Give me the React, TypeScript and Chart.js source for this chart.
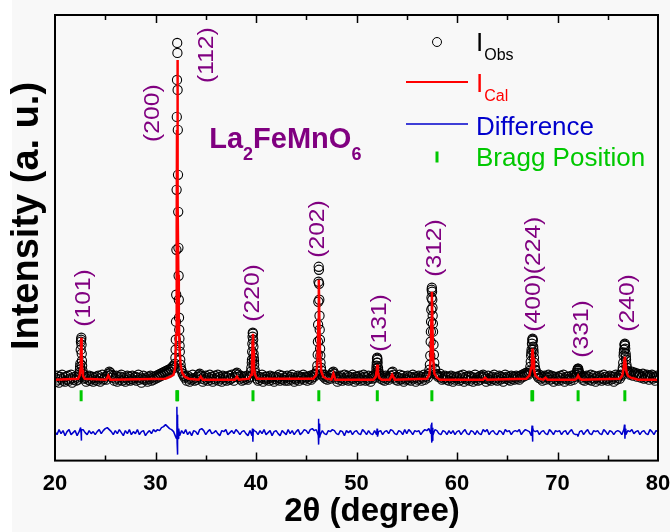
import React, { useEffect, useRef } from 'react';
import { Chart, registerables } from 'chart.js';

Chart.register(...registerables);

const FONT = "'Liberation Sans', Arial, Helvetica, sans-serif";

// ---- axes ----
const X_MIN = 20;
const X_MAX = 80;
const Y_MIN = -81;
const Y_MAX = 365;
const xTicks = [20, 30, 40, 50, 60, 70, 80];
const xMinorTicks = [25, 35, 45, 55, 65, 75];
const xTitle = '2θ (degree)';
const yTitle = 'Intensity (a. u.)';

// ---- observed intensity: scan 20..80, step 0.1 (one row = 1 degree) ----
const OBS_START = 20;
const OBS_STEP = 0.1;
const obsGrid = [
  2, -2, 4, 0, -3, 3, 1, 5, -1, 2,
  -2, 3, 0, 4, -1, 1, 5, -3, 2, 0,
  3, -1, 2, 0, 5, 13, 40, 14, 5, 1,
  2, -2, 3, 0, 4, -1, 1, 3, -2, 2,
  0, 3, -1, 4, 1, -2, 2, 5, 0, 1,
  3, 0, 4, 6, 8, 7, 5, 2, 4, -1,
  1, 4, -2, 2, 0, 3, 5, -1, 2, 0,
  -2, 2, 4, 0, 3, -1, 1, 4, 0, 2,
  3, -1, 2, 5, 0, 2, -3, 1, 4, 0,
  2, 0, -2, 3, 1, 4, -1, 2, 0, 3,
  1, 4, 2, 5, 3, 6, 4, 7, 5, 8,
  6, 9, 7, 10, 8, 11, 10, 13, 14, 12,
  30, 190, 290, 104, 34, 15, 9, 6, 4, 2,
  3, -1, 4, 1, -2, 2, 0, 5, 1, -1,
  2, 0, 3, 5, 6, 4, 1, -2, 3, 0,
  4, 1, -1, 2, 5, 0, 3, -2, 1, 4,
  0, 2, 5, -1, 3, 1, -2, 4, 2, 0,
  3, -1, 2, 4, 0, 1, 5, 2, -1, 3,
  6, 7, 5, 3, 1, 4, -1, 2, 0, 3,
  1, 4, 0, 2, 3, 8, 20, 46, 19, 7,
  4, 1, -1, 3, 0, 2, 5, -2, 1, 3,
  0, 3, 1, -1, 4, 2, 0, 3, -2, 1,
  3, 0, 2, 5, -1, 1, 4, 0, 2, -1,
  2, 4, -1, 1, 3, 0, 5, 2, -2, 1,
  0, 2, 4, -1, 3, 1, 2, 5, 0, 3,
  2, -1, 3, 1, 4, 0, 2, 5, 3, 6,
  5, 14, 78, 80, 24, 9, 5, 3, 5, 1,
  3, 0, 2, 4, 1, 5, 7, 8, 6, 3,
  1, -2, 3, 0, 4, 2, -1, 1, 5, 0,
  2, 4, -1, 3, 0, 2, 5, 1, -2, 3,
  0, 3, 1, 4, -1, 2, 0, 5, 3, -1,
  2, 0, 4, 1, -2, 3, 1, 4, 2, 5,
  14, 17, 7, 4, 1, 3, 0, 2, -1, 4,
  1, 3, 0, 2, 4, 7, 8, 5, 2, 0,
  3, -1, 2, 5, 0, 1, 4, -2, 2, 0,
  1, 4, 0, 3, -1, 2, 5, 1, 3, -2,
  2, 0, 4, 1, 3, -1, 2, 5, 0, 3,
  4, 2, 6, 15, 48, 92, 56, 25, 11, 6,
  5, 3, 4, 6, 2, 0, 3, 1, 4, 2,
  0, 3, -1, 2, 4, 1, -2, 3, 0, 2,
  3, 1, -1, 4, 0, 2, 5, -2, 1, 3,
  0, 2, 4, -1, 3, 1, -2, 2, 5, 0,
  2, -1, 3, 0, 4, 2, 5, 3, 1, -2,
  1, 4, 0, 2, -1, 3, 1, 5, 0, 2,
  -1, 2, 4, 0, 3, 1, -2, 2, 5, 1,
  3, 0, 2, -1, 4, 1, 3, 0, 2, 4,
  1, 3, 0, 4, 2, 5, 3, 6, 4, 7,
  6, 5, 7, 13, 27, 40, 30, 17, 10, 6,
  4, 2, 5, 1, 3, -1, 2, 4, 0, 3,
  2, 5, 3, 0, 4, 1, -2, 3, 1, 0,
  3, -1, 2, 4, 0, 2, 5, -2, 1, 3,
  0, 3, 1, -1, 4, 2, 0, 5, 3, 5,
  10, 9, 6, 4, 2, 0, 3, -1, 2, 4,
  1, 3, 0, 5, -1, 2, 4, 1, -2, 2,
  3, 0, 4, 2, -1, 1, 5, 0, 3, 1,
  -1, 2, 4, 0, 3, 1, -2, 3, 5, 0,
  2, 4, 1, 5, 4, 12, 27, 36, 23, 12,
  8, 7, 5, 6, 8, 4, 6, 7, 5, 3,
  6, 4, 5, 2, 3, 6, 1, 4, 2, 5,
  3, 0, 4, 2, 5, 1, 3, -1, 2, 4,
  2,
];

// ---- observed intensity: extra fine points across the reflections [2θ, I] ----
const obsPeakPoints: [number, number][] = [
  [22.44, 7], [22.48, 10], [22.52, 16], [22.56, 30], [22.58, 38], [22.62, 42], [22.64, 35], [22.66, 26], [22.68, 19], [22.74, 9], [22.78, 6],
  [31.94, 16], [31.98, 22], [32.02, 40], [32.04, 58], [32.06, 85], [32.08, 130], [32.12, 263], [32.14, 300], [32.16, 337], [32.18, 327], [32.22, 250], [32.24, 205], [32.26, 168], [32.28, 132], [32.32, 80], [32.34, 62], [32.36, 50], [32.38, 41], [32.42, 28], [32.46, 20], [32.54, 11],
  [39.54, 12], [39.58, 17], [39.62, 28], [39.64, 36], [39.66, 43], [39.68, 47], [39.72, 40], [39.74, 33], [39.76, 26], [39.78, 22], [39.82, 15], [39.86, 10],
  [46.06, 9], [46.14, 25], [46.16, 38], [46.18, 55], [46.22, 98], [46.24, 113], [46.26, 110], [46.28, 96], [46.32, 64], [46.34, 50], [46.36, 40], [46.38, 31], [46.42, 17], [46.46, 12],
  [51.94, 7], [51.98, 11], [52.02, 17], [52.04, 21], [52.06, 22], [52.08, 20], [52.14, 12], [52.18, 9], [52.24, 6],
  [57.26, 10], [57.34, 24], [57.38, 38], [57.42, 58], [57.44, 70], [57.46, 82], [57.48, 90], [57.52, 88], [57.54, 80], [57.56, 72], [57.58, 64], [57.62, 48], [57.66, 35], [57.74, 17], [57.82, 10],
  [67.26, 9], [67.34, 18], [67.38, 24], [67.42, 30], [67.46, 36], [67.52, 41], [67.54, 39], [67.58, 33], [67.62, 27], [67.66, 22], [67.74, 13], [67.82, 9],
  [71.94, 7], [71.98, 9], [72.02, 11], [72.06, 11], [72.14, 7],
  [76.46, 9], [76.54, 17], [76.58, 24], [76.62, 30], [76.66, 35], [76.72, 34], [76.74, 31], [76.78, 26], [76.82, 20], [76.86, 15], [76.94, 9],
];

// ---- calculated profile [2θ, I] ----
const calcProfile: [number, number][] = [
  [20, 0],
  [22.3, 1], [22.45, 4], [22.52, 10], [22.57, 25], [22.61, 42], [22.65, 25], [22.70, 10], [22.78, 4], [22.95, 1],
  [25.1, 0], [25.3, 4], [25.5, 0],
  [31.0, 1], [31.5, 3], [31.8, 5], [31.95, 12], [32.05, 45], [32.11, 150], [32.14, 250], [32.17, 320], [32.20, 275], [32.23, 180], [32.27, 105], [32.32, 60], [32.40, 30], [32.50, 15], [32.65, 7], [32.9, 3], [33.3, 1],
  [34.3, 0], [34.5, 3], [34.7, 0],
  [37.9, 0], [38.1, 3], [38.3, 0],
  [39.3, 1], [39.52, 5], [39.60, 15], [39.66, 38], [39.70, 46], [39.74, 30], [39.80, 12], [39.90, 5], [40.1, 1],
  [45.7, 1], [46.0, 5], [46.12, 18], [46.20, 60], [46.25, 100], [46.30, 62], [46.38, 22], [46.50, 8], [46.7, 3], [47.0, 1],
  [47.5, 0], [47.7, 6], [47.9, 0],
  [51.7, 0], [51.92, 3], [52.01, 9], [52.07, 15], [52.13, 8], [52.25, 2], [52.5, 0],
  [53.3, 0], [53.55, 5], [53.8, 0],
  [57.0, 1], [57.25, 5], [57.38, 20], [57.45, 60], [57.50, 88], [57.55, 58], [57.62, 22], [57.75, 6], [58.0, 2], [58.3, 0],
  [62.6, 0], [62.8, 2], [63.0, 0],
  [66.9, 1], [67.2, 4], [67.38, 12], [67.46, 24], [67.52, 31], [67.58, 22], [67.66, 10], [67.8, 4], [68.1, 1],
  [68.6, 0], [68.8, 2], [69.0, 0],
  [71.7, 0], [71.9, 1], [72.05, 4], [72.2, 1], [72.4, 0],
  [76.2, 1], [76.45, 4], [76.58, 12], [76.66, 20], [76.70, 23], [76.76, 17], [76.86, 8], [77.0, 4], [77.3, 2], [77.7, 1],
  [78.0, 0], [80, 0],
];

// ---- difference (obs - calc) on a 0.2 step, shown shifted by DIFF_OFFSET ----
const DIFF_START = 20;
const DIFF_STEP = 0.2;
const DIFF_OFFSET = -53;
const diffResidual = [
  1, -2, 3, -1, 2, -3, 1, 3, -2, 0,
  2, -3, 1, -1, 3, 0, -2, 2, -1, 1,
  -2, 1, 3, -1, 2, 4, 5, 3, 1, -2,
  2, -1, 3, 0, -3, 2, -1, 3, -2, 1,
  -1, 3, -2, 1, 2, -3, 0, 2, -1, 3,
  1, 3, 2, 5, 6, 8, 6, 4, 3, 1,
  -4, 3, -3, 2, -1, 3, -2, 1, -3, 2,
  1, -2, 3, 4, 2, -2, 1, 3, -1, 0,
  2, -1, -3, 2, 1, 3, -2, 0, 2, -1,
  3, 1, -2, 1, 2, -1, -3, 2, -3, 2,
  1, -2, 2, -1, 3, -2, 0, 2, -3, 1,
  2, -1, -3, 2, 0, -2, 3, -1, 2, -2,
  1, 3, -2, 0, 3, 2, -1, 3, 4, 2,
  3, -3, -2, 2, -1, -2, 2, 1, 3, 2,
  -1, -2, 2, 1, -3, 2, 0, 2, -2, 1,
  2, -1, -2, 3, 1, -2, 2, -1, -2, 2,
  -2, 1, 2, -2, 1, 2, -1, 3, 2, -1,
  -2, 2, 1, -2, 3, -1, 3, 1, -2, 2,
  1, 2, -2, 1, 3, 2, 4, -1, -3, 3,
  2, -1, -2, 2, 1, -2, 2, -1, 2, -2,
  1, 2, -2, 1, 3, -1, -2, 2, 1, -2,
  2, -1, -2, 3, 1, 3, -2, 1, 2, -1,
  -2, 2, 1, -2, 3, 1, 2, -2, 1, 2,
  1, 3, -2, 1, 3, 2, 1, -3, 2, 1,
  2, -2, 1, 2, -1, -2, 3, 1, -2, 2,
  1, 2, -2, 1, 2, -2, 1, 3, -1, -2,
  -2, 1, 2, -2, 1, 3, -1, -2, 2, 1,
  2, -1, -2, 3, 1, -2, 2, 1, -2, 1,
  2, 1, -2, 3, -2, 2, 1, 3, -1, 1,
  2, -2, 1, 2, -1, -2, 3, 1, -2, 2,
  1,
];
const diffSpikes: [number, number][] = [
  [22.55, 5], [22.61, -8], [22.65, 3],
  [32.09, -6], [32.13, 26], [32.15, -10], [32.17, 18], [32.19, -22], [32.23, 8], [32.27, -6], [32.31, 4],
  [39.65, 4], [39.69, -9], [39.73, 3],
  [46.21, 14], [46.25, -12], [46.29, 9], [46.33, -5],
  [52.05, 4], [52.09, -4],
  [57.43, 8], [57.47, -10], [57.51, 10], [57.55, -8], [57.59, 5],
  [67.47, 7], [67.51, -9], [67.55, 5],
  [72.03, -4],
  [76.67, 8], [76.71, -6], [76.75, 4],
];

// ---- Bragg reflections ----
const BRAGG_LEVEL = -16;
const braggPositions = [22.6, 32.12, 32.2, 39.7, 46.25, 52.07, 57.5, 67.45, 67.53, 72.05, 76.7];

// ---- hkl annotations (text, 2θ, intensity at text start) ----
const hklLabels = ['(101)', '(200)', '(112)', '(220)', '(202)', '(131)', '(312)', '(400)(224)', '(331)', '(240)'];
const hklAngle = [22.89, 29.77, 35.15, 39.74, 46.12, 52.3, 57.79, 67.66, 72.44, 77.03];
const hklBase = [53, 238, 297, 58, 122, 28, 103, 48, 22, 48];

// ---- compound name (segments, subscript flag) ----
const compoundParts = ['La', '2', 'FeMnO', '6'];
const compoundSub = [false, true, false, true];
const COMPOUND_AT = [35.35, 232];

// ---- legend ----
const legendMain = ['I', 'I', 'Difference', 'Bragg Position'];
const legendSub = ['Obs', 'Cal', '', ''];
const legendColors = ['#000000', '#ff0000', '#0000cc', '#00c800'];

const OBS_COLOR = '#000000';
const CALC_COLOR = '#ff0000';
const DIFF_COLOR = '#0000cc';
const BRAGG_COLOR = '#00c800';
const LABEL_COLOR = '#800080';

const round2 = (v: number) => Math.round(v * 100) / 100;

function buildObs() {
  const pts: { x: number; y: number }[] = [];
  obsGrid.forEach((v, i) => pts.push({ x: round2(OBS_START + i * OBS_STEP), y: v }));
  obsPeakPoints.forEach(([x, y]) => pts.push({ x, y }));
  return pts;
}

function buildDiff() {
  const pts: { x: number; y: number }[] = [];
  diffResidual.forEach((v, i) => pts.push({ x: round2(DIFF_START + i * DIFF_STEP), y: DIFF_OFFSET + v }));
  diffSpikes.forEach(([x, v]) => pts.push({ x, y: DIFF_OFFSET + v }));
  pts.sort((a, b) => a.x - b.x);
  return pts;
}

const decorPlugin = {
  id: 'decor',
  beforeDraw(chart: any) {
    const { ctx, width, height } = chart;
    ctx.save();
    ctx.fillStyle = '#ffffff';
    ctx.fillRect(0, 0, width, height);
    ctx.fillStyle = '#f8f8f8';
    ctx.fillRect(12, 0, width - 12, height);
    ctx.restore();
  },
  afterDraw(chart: any) {
    const { ctx, chartArea: a, scales } = chart;
    const xs = scales.x;
    const ys = scales.y;
    ctx.save();

    // frame
    ctx.strokeStyle = '#000';
    ctx.lineWidth = 2;
    ctx.strokeRect(a.left, a.top, a.right - a.left, a.bottom - a.top);

    // inward ticks (top and bottom)
    ctx.lineWidth = 1.5;
    const tick = (v: number, len: number) => {
      const x = Math.round(xs.getPixelForValue(v)) + 0.5;
      ctx.beginPath();
      ctx.moveTo(x, a.bottom);
      ctx.lineTo(x, a.bottom - len);
      ctx.moveTo(x, a.top);
      ctx.lineTo(x, a.top + len);
      ctx.stroke();
    };
    xTicks.forEach((v) => { if (v > X_MIN && v < X_MAX) tick(v, 8); });
    xMinorTicks.forEach((v) => tick(v, 5));

    // hkl labels
    ctx.fillStyle = LABEL_COLOR;
    ctx.font = `22px ${FONT}`;
    ctx.textAlign = 'left';
    ctx.textBaseline = 'middle';
    hklLabels.forEach((t, i) => {
      const x = xs.getPixelForValue(hklAngle[i]);
      const y = ys.getPixelForValue(hklBase[i]);
      ctx.save();
      ctx.translate(x, y);
      ctx.rotate(-Math.PI / 2);
      ctx.scale(1.12, 1);
      ctx.fillText(t, 0, 0);
      ctx.restore();
    });

    // compound name
    ctx.textBaseline = 'alphabetic';
    let cx = xs.getPixelForValue(COMPOUND_AT[0]);
    const cy = ys.getPixelForValue(COMPOUND_AT[1]);
    compoundParts.forEach((p, i) => {
      ctx.font = compoundSub[i] ? `bold 18px ${FONT}` : `bold 29px ${FONT}`;
      const yy = compoundSub[i] ? cy + 12 : cy;
      ctx.fillText(p, cx, yy);
      cx += ctx.measureText(p).width;
    });

    // legend
    const lx = a.right - 252;
    const rows = [a.top + 27, a.top + 67, a.top + 109, a.top + 142];
    ctx.strokeStyle = OBS_COLOR;
    ctx.lineWidth = 1;
    ctx.beginPath();
    ctx.arc(lx + 31, rows[0], 4.5, 0, Math.PI * 2);
    ctx.stroke();
    ctx.strokeStyle = CALC_COLOR;
    ctx.lineWidth = 2;
    ctx.beginPath();
    ctx.moveTo(lx, rows[1]);
    ctx.lineTo(lx + 62, rows[1]);
    ctx.stroke();
    ctx.strokeStyle = DIFF_COLOR;
    ctx.lineWidth = 1.5;
    ctx.beginPath();
    ctx.moveTo(lx, rows[2]);
    ctx.lineTo(lx + 62, rows[2]);
    ctx.stroke();
    ctx.strokeStyle = BRAGG_COLOR;
    ctx.lineWidth = 3;
    ctx.beginPath();
    ctx.moveTo(lx + 31, rows[3] - 5.5);
    ctx.lineTo(lx + 31, rows[3] + 5.5);
    ctx.stroke();

    const tx = lx + 70;
    const baselines = [rows[0] + 9, rows[1] + 10, rows[2] + 11, rows[3] + 9];
    legendMain.forEach((t, i) => {
      ctx.fillStyle = legendColors[i];
      ctx.font = `26px ${FONT}`;
      ctx.fillText(t, tx, baselines[i]);
      if (legendSub[i]) {
        const w = ctx.measureText(t).width;
        ctx.font = `16px ${FONT}`;
        ctx.fillText(legendSub[i], tx + w + 1, baselines[i] + 9);
      }
    });

    // axis titles
    ctx.fillStyle = '#000';
    ctx.font = `bold 38px ${FONT}`;
    ctx.textAlign = 'center';
    ctx.textBaseline = 'middle';
    ctx.save();
    ctx.translate(28, 216);
    ctx.rotate(-Math.PI / 2);
    ctx.fillText(yTitle, 0, 0);
    ctx.restore();

    ctx.font = `bold 33px ${FONT}`;
    ctx.textBaseline = 'alphabetic';
    ctx.fillText(xTitle, 372, 521);

    ctx.restore();
  },
};

export default function App() {
  const ref = useRef<HTMLCanvasElement>(null);

  useEffect(() => {
    document.body.style.margin = '0';
    document.body.style.background = '#f8f8f8';
    const canvas = ref.current;
    if (!canvas) return;
    Chart.defaults.font.family = FONT;

    const chart = new Chart(canvas, {
      type: 'scatter',
      data: {
        datasets: [
          {
            label: 'I_Cal',
            data: calcProfile.map(([x, y]) => ({ x, y })),
            showLine: true,
            borderColor: CALC_COLOR,
            borderWidth: 2.5,
            pointRadius: 0,
            order: 0,
          } as any,
          {
            label: 'I_Obs',
            data: buildObs(),
            showLine: false,
            pointRadius: 4.6,
            pointBorderWidth: 1.1,
            pointBorderColor: OBS_COLOR,
            pointBackgroundColor: 'rgba(0,0,0,0)',
            order: 1,
          } as any,
          {
            label: 'Difference',
            data: buildDiff(),
            showLine: true,
            borderColor: DIFF_COLOR,
            borderWidth: 1.5,
            borderJoinStyle: 'bevel',
            pointRadius: 0,
            order: 2,
          } as any,
          {
            label: 'Bragg Position',
            data: braggPositions.map((x) => ({ x, y: BRAGG_LEVEL })),
            showLine: false,
            pointStyle: 'line',
            pointRotation: 90,
            pointRadius: 5.5,
            pointBorderWidth: 3,
            pointBorderColor: BRAGG_COLOR,
            order: 3,
          } as any,
        ],
      },
      options: {
        animation: false,
        responsive: false,
        events: [],
        layout: { padding: { left: 55, right: 12, top: 15, bottom: 25 } },
        plugins: { legend: { display: false }, tooltip: { enabled: false } },
        scales: {
          x: {
            type: 'linear',
            min: X_MIN,
            max: X_MAX,
            afterBuildTicks: (s: any) => {
              s.ticks = xTicks.map((v) => ({ value: v }));
            },
            afterFit: (s: any) => {
              s.paddingLeft = 0;
              s.paddingRight = 0;
            },
            ticks: {
              font: { size: 22, weight: 'bold' },
              color: '#000',
              padding: 10,
              maxRotation: 0,
              autoSkip: false,
              callback: (v: any) => String(v),
            },
            grid: { display: false, drawTicks: false, tickLength: 0 },
            border: { display: false },
          },
          y: { type: 'linear', min: Y_MIN, max: Y_MAX, display: false },
        },
      } as any,
      plugins: [decorPlugin],
    });
    return () => chart.destroy();
  }, []);

  return <canvas ref={ref} width={670} height={532} style={{ display: 'block' }} />;
}
